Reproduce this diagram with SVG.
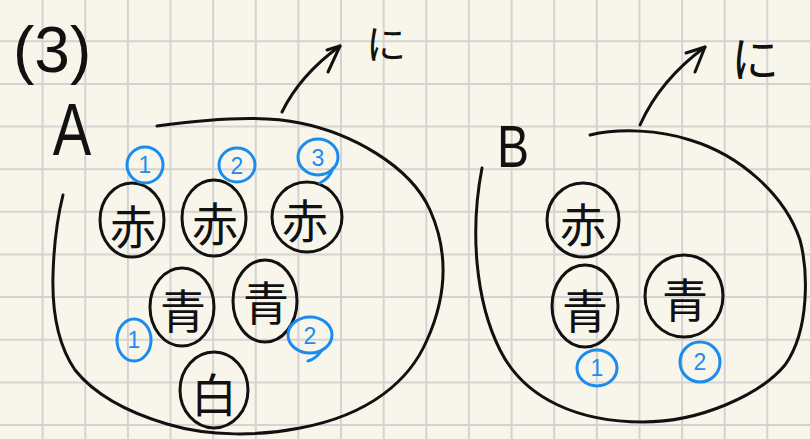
<svg xmlns="http://www.w3.org/2000/svg" width="810" height="439" viewBox="0 0 810 439">
<style>
.ink{fill:none;stroke:#111;stroke-width:3;stroke-linecap:round;stroke-linejoin:round}
.node{fill:none;stroke:#111;stroke-width:3}
.num{fill:none;stroke:#1a8cf0;stroke-width:3;stroke-linecap:round}
.k{font-family:"Noto Sans CJK JP","Noto Sans CJK SC",sans-serif;font-size:46px;fill:#111;text-anchor:middle;dominant-baseline:central}
.d{font-family:"Liberation Sans",Arial,sans-serif;font-size:23px;fill:#1a8cf0;text-anchor:middle;dominant-baseline:central}
.lbl{font-family:"Liberation Sans",Arial,sans-serif;fill:#111}
.ni{font-family:"Noto Sans CJK JP","Noto Sans CJK SC",sans-serif;fill:#111;text-anchor:middle;dominant-baseline:central}
</style>
<rect width="810" height="439" fill="#f8f6ea"/>
<path d="M42.6 0V439M85.3 0V439M127.9 0V439M170.5 0V439M213.2 0V439M255.8 0V439M298.4 0V439M341 0V439M383.7 0V439M426.3 0V439M468.9 0V439M511.6 0V439M554.2 0V439M596.8 0V439M639.5 0V439M682.1 0V439M724.7 0V439M767.3 0V439M0 41.3H810M0 84H810M0 126.6H810M0 169.2H810M0 211.8H810M0 254.5H810M0 297.1H810M0 339.7H810M0 382.4H810M0 425H810" stroke="#d3d3d3" stroke-width="2" fill="none"/>

<g id="title">
<text class="lbl" x="13" y="72" font-size="64">(3)</text>
</g>

<g id="setA">
<text class="lbl" font-size="74" text-anchor="middle" transform="translate(72,155) scale(0.78,1)">A</text>
<path class="ink" d="M157,126 C200,120 260,114 300,123 C350,133 410,165 430,210 C450,255 445,300 427,340 C410,380 370,415 300,428 C260,436 210,437 167,424 C130,413 95,395 75,370 C58,345 52,310 53,275 C54,240 58,215 63,195"/>
</g>

<g id="setB">
<text class="lbl" font-size="60" text-anchor="middle" transform="translate(513,167) scale(0.8,1)">B</text>
<path class="ink" d="M482,168 C470,230 475,300 500,350 C525,400 580,422 643,422 C700,422 760,395 785,365 C810,330 808,270 800,240 C785,195 740,155 690,140 C660,130 620,128 590,135"/>
</g>

<g id="A-red1"><ellipse class="node" cx="132" cy="220" rx="32" ry="37"/><text class="k" x="133" y="224">赤</text></g>
<g id="A-red2"><ellipse class="node" cx="214" cy="218" rx="32" ry="38"/><text class="k" x="215" y="221">赤</text></g>
<g id="A-red3"><ellipse class="node" cx="307" cy="217" rx="35" ry="35"/><text class="k" x="305" y="218">赤</text></g>
<g id="A-blue1"><ellipse class="node" cx="182" cy="307" rx="32" ry="39"/><text class="k" x="183" y="308">青</text></g>
<g id="A-blue2"><ellipse class="node" cx="265" cy="301" rx="32" ry="41"/><text class="k" x="266" y="300">青</text></g>
<g id="A-white"><ellipse class="node" cx="214" cy="390" rx="34" ry="38"/><text class="k" x="214" y="392">白</text></g>

<g id="A-n1"><ellipse class="num" cx="145" cy="165" rx="18" ry="18"/><text class="d" x="145" y="165">1</text></g>
<g id="A-n2"><ellipse class="num" cx="237" cy="165" rx="18" ry="17"/><text class="d" x="237" y="166">2</text></g>
<g id="A-n3"><ellipse class="num" cx="318" cy="157" rx="20" ry="18"/><path class="num" d="M333,168 Q330,178 320,183"/><text class="d" x="318" y="158">3</text></g>
<g id="A-n4"><ellipse class="num" cx="134" cy="340" rx="17" ry="21"/><text class="d" x="134" y="340">1</text></g>
<g id="A-n5"><ellipse class="num" cx="310" cy="335" rx="22" ry="18"/><path class="num" d="M322,350 Q316,359 308,361"/><text class="d" x="310" y="336">2</text></g>

<g id="B-red"><ellipse class="node" cx="583" cy="220" rx="36" ry="37"/><text class="k" x="583" y="222">赤</text></g>
<g id="B-blue1"><ellipse class="node" cx="585" cy="306" rx="33" ry="41"/><text class="k" x="585" y="308">青</text></g>
<g id="B-blue2"><ellipse class="node" cx="684" cy="296" rx="39" ry="41"/><text class="k" x="685" y="297">青</text></g>
<g id="B-n1"><ellipse class="num" cx="597" cy="368" rx="20" ry="18"/><text class="d" x="597" y="368">1</text></g>
<g id="B-n2"><ellipse class="num" cx="700" cy="362" rx="20" ry="20"/><text class="d" x="700" y="362">2</text></g>

<g id="connectors">
<path class="ink" d="M282,112 Q300,75 340,46"/>
<path class="ink" d="M327,50 L340,46 L328,72"/>
<path class="ink" d="M640,125 Q660,80 705,47"/>
<path class="ink" d="M686,53 L705,47 L695,72"/>
</g>

<g id="label-ni-A"><text class="ni" x="386" y="42" font-size="40">に</text></g>
<g id="label-ni-B"><text class="ni" x="755" y="56" font-size="48">に</text></g>
</svg>
